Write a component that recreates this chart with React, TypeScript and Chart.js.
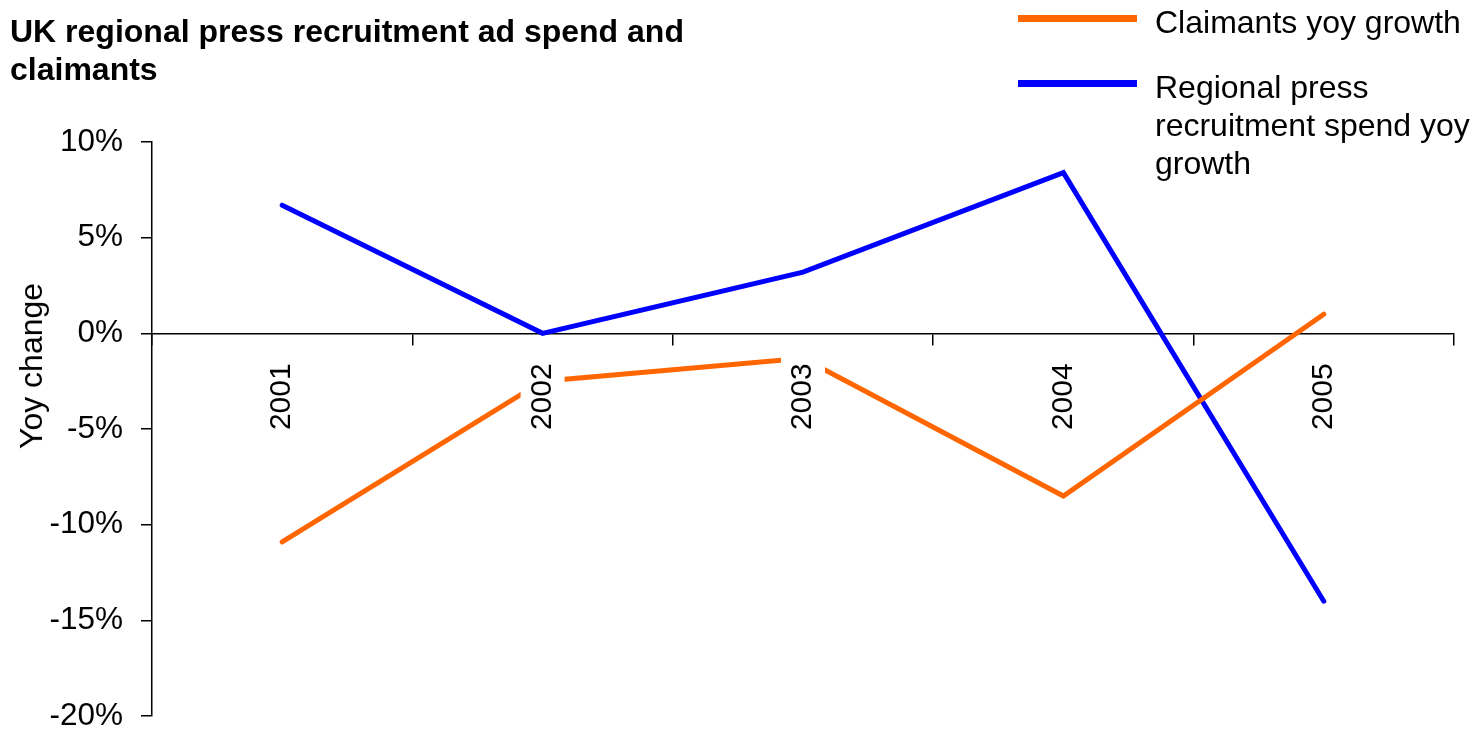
import React, { useEffect, useRef } from "react";
import { Chart, registerables } from "chart.js";

Chart.register(...registerables);

const categories: string[] = ["2001", "2002", "2003", "2004", "2005"];
const claimantsGrowth: number[] = [-10.9, -2.5, -1.3, -8.5, 1.0];
const pressSpendGrowth: number[] = [6.7, 0.0, 3.2, 8.4, -14.0];
const yTickValues: number[] = [-20, -15, -10, -5, 0, 5, 10];
const titleLines: string[] = ["UK regional press recruitment ad spend and", "claimants"];
const yAxisTitle = "Yoy change";
const legendLabels: string[] = ["Claimants yoy growth", "Regional press recruitment spend yoy growth"];
const legendSecondLines: string[] = ["Regional press", "recruitment spend yoy", "growth"];

const FONT = "'Liberation Sans', Arial, sans-serif";
const ORANGE = "#FF6600";
const BLUE = "#0000FF";

export default function App() {
  const canvasRef = useRef<HTMLCanvasElement | null>(null);

  useEffect(() => {
    const canvas = canvasRef.current;
    if (!canvas) return;
    const chart = new Chart(canvas, {
      type: "line",
      data: {
        labels: categories,
        datasets: [
          {
            label: legendLabels[0],
            data: claimantsGrowth,
            borderColor: ORANGE,
            backgroundColor: ORANGE,
            borderWidth: 5,
            pointRadius: 0,
            tension: 0,
            borderCapStyle: "round",
          },
          {
            label: legendLabels[1],
            data: pressSpendGrowth,
            borderColor: BLUE,
            backgroundColor: BLUE,
            borderWidth: 5,
            pointRadius: 0,
            tension: 0,
            borderCapStyle: "round",
          },
        ],
      },
      options: {
        animation: false,
        responsive: false,
        maintainAspectRatio: false,
        layout: { padding: { left: 0, top: 142, right: 21, bottom: 18 } },
        plugins: {
          legend: { display: false },
          title: { display: false },
          tooltip: { enabled: false },
        },
        scales: {
          x: {
            type: "category",
            position: { y: 0 } as any,
            offset: true,
            afterFit: (scale: any) => {
              scale.paddingLeft = 0;
              scale.paddingRight = 0;
              scale.paddingTop = 0;
              scale.paddingBottom = 0;
            },
            grid: {
              offset: true,
              drawOnChartArea: false,
              drawTicks: true,
              tickLength: 11,
              color: "#000",
              lineWidth: 1.5,
              z: -1,
            },
            border: { display: true, color: "#000", width: 1.5, z: 0 },
            ticks: {
              z: 1,
              color: "#000",
              font: { family: FONT, size: 30 },
              minRotation: 90,
              maxRotation: 90,
              autoSkip: false,
              padding: 19,
              labelOffset: -18,
              showLabelBackdrop: true,
              backdropColor: "#fff",
              backdropPadding: { top: 4, bottom: 4, left: 2, right: 10 },
            } as any,
          },
          y: {
            type: "linear",
            min: -20,
            max: 10,
            afterFit: (scale: any) => {
              scale.width = 152;
              scale.paddingTop = 0;
              scale.paddingBottom = 0;
            },
            afterBuildTicks: (scale: any) => {
              scale.ticks = yTickValues.map((v) => ({ value: v }));
            },
            grid: {
              drawOnChartArea: false,
              drawTicks: true,
              tickLength: 11,
              color: "#000",
              lineWidth: 1.5,
            },
            border: { display: true, color: "#000", width: 1.5 },
            ticks: {
              color: "#000",
              font: { family: FONT, size: 31.5 },
              padding: 18,
              callback: (v: any) => `${v}%`,
            },
            title: { display: false },
          },
        },
      },
    });
    return () => chart.destroy();
  }, []);

  return (
    <div
      style={{
        position: "fixed",
        left: 0,
        top: 0,
        width: 1475,
        height: 734,
        background: "#fff",
        overflow: "hidden",
      }}
    >
      <canvas ref={canvasRef} width={1475} height={734} style={{ position: "absolute", left: 0, top: 0 }} />
      <div
        style={{
          position: "absolute",
          left: 10,
          top: 12,
          fontFamily: FONT,
          fontWeight: "bold",
          fontSize: 32,
          lineHeight: "38px",
          color: "#000",
          whiteSpace: "nowrap",
        }}
      >
        {titleLines.map((t, i) => (
          <div key={i}>{t}</div>
        ))}
      </div>
      <div
        style={{
          position: "absolute",
          left: 31,
          top: 366,
          transform: "translate(-50%, -50%) rotate(-90deg)",
          fontFamily: FONT,
          fontSize: 32,
          lineHeight: "38px",
          color: "#000",
          whiteSpace: "nowrap",
        }}
      >
        {yAxisTitle}
      </div>
      <div style={{ position: "absolute", left: 1018, top: 15, width: 119, height: 7, background: ORANGE }} />
      <div
        style={{
          position: "absolute",
          left: 1155,
          top: 3,
          fontFamily: FONT,
          fontSize: 32,
          lineHeight: "38px",
          color: "#000",
          whiteSpace: "nowrap",
        }}
      >
        {legendLabels[0]}
      </div>
      <div style={{ position: "absolute", left: 1018, top: 80, width: 119, height: 7, background: BLUE }} />
      <div
        style={{
          position: "absolute",
          left: 1155,
          top: 68,
          fontFamily: FONT,
          fontSize: 32,
          lineHeight: "38px",
          color: "#000",
          whiteSpace: "nowrap",
        }}
      >
        {legendSecondLines.map((t, i) => (
          <div key={i}>{t}</div>
        ))}
      </div>
    </div>
  );
}
